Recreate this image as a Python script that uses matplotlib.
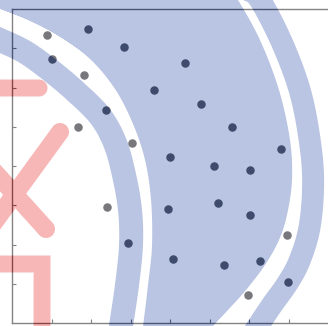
import numpy as np
import matplotlib
matplotlib.use("Agg")
import matplotlib.pyplot as plt

# scatter values (axes run 0..8 on both sides)
x_vals = [0.89, 1.92, 2.84, 1.01, 1.82, 4.38, 3.59, 4.78, 2.38, 1.67, 5.57, 3.04, 6.81, 4.00,
          5.11, 6.03, 2.41, 3.95, 5.22, 6.03, 6.96, 2.94, 4.08, 5.37, 6.28, 6.99, 5.97]
y_vals = [7.34, 7.49, 7.03, 6.73, 6.32, 6.62, 5.94, 5.58, 5.43, 4.99, 4.99, 4.59, 4.43, 4.23,
          4.00, 3.90, 2.96, 2.90, 3.06, 2.75, 2.24, 2.04, 1.63, 1.48, 1.58, 1.04, 0.71]
ticks = [1, 2, 3, 4, 5, 6, 7]

W, H = 328, 326

fig = plt.figure(figsize=(W / 100, H / 100), dpi=100)
ax = fig.add_axes([12 / W, 3 / H, 316 / W, 314 / H])
ax.scatter(x_vals, y_vals, s=26, color="#1e1e26", zorder=3)
ax.set_xlim(0, 8)
ax.set_ylim(0, 8)
ax.set_xticks(ticks)
ax.set_yticks(ticks)
ax.tick_params(direction="in", length=3, width=0.8, colors="#333333",
               labelleft=False, labelbottom=False)
for side in ["left", "bottom", "top"]:
    ax.spines[side].set_color("#333333")
    ax.spines[side].set_linewidth(1.0)
ax.spines["right"].set_visible(False)


# ---- watermark laid over the whole picture ----
def spline(pts, n=24):
    p = np.array(pts, float)
    p = np.vstack([p[0], p, p[-1]])
    t = np.linspace(0, 1, n, endpoint=False)[:, None]
    out = []
    for i in range(1, len(p) - 2):
        p0, p1, p2, p3 = p[i - 1], p[i], p[i + 1], p[i + 2]
        out.append(0.5 * (2 * p1 + (-p0 + p2) * t + (2 * p0 - 5 * p1 + 4 * p2 - p3) * t ** 2
                          + (-p0 + 3 * p1 - 3 * p2 + p3) * t ** 3))
    out.append(p[-2][None])
    return np.vstack(out)


gx, gy = np.meshgrid(np.arange(W) + 0.5, np.arange(H) + 0.5)


def path_dist(path):
    d = np.full(gx.shape, 1e9)
    for (x0, y0), (x1, y1) in zip(path[:-1], path[1:]):
        dx, dy = x1 - x0, y1 - y0
        l2 = dx * dx + dy * dy or 1e-9
        t = np.clip(((gx - x0) * dx + (gy - y0) * dy) / l2, 0, 1)
        d = np.minimum(d, np.hypot(gx - x0 - t * dx, gy - y0 - t * dy))
    return d


def soft(v):
    return np.clip(v + 0.5, 0, 1)


def xcurve(pts):
    c = spline(pts)
    return np.interp(gy, np.maximum.accumulate(c[:, 1]), c[:, 0])


inner_band = [(-10, 36), (0, 40), (25, 52), (50, 70), (75, 91), (100, 116), (115, 143),
              (124, 175), (130, 210), (131, 245), (127, 285), (121, 326), (119, 340)]
left_edge = [(-10, 5), (0, 9), (30, 21), (60, 37), (90, 59), (115, 89), (133, 124),
             (145, 160), (151, 200), (152, 245), (148, 285), (143, 326), (141, 340)]
right_edge = [(232, -5), (238, 0), (260, 40), (279, 90), (290, 140), (292, 180), (287, 215),
              (279, 240), (265, 265), (246, 290), (228, 310), (213, 326), (206, 335)]
outer_band = [(248, -10), (260, 0), (283, 45), (301, 95), (311, 150), (313, 190), (309, 230),
              (299, 262), (287, 284), (272, 305), (258, 326), (252, 335)]

big = soft(np.minimum(gx - xcurve(left_edge), xcurve(right_edge) - gx))
band1 = soft(12 - path_dist(spline(inner_band)))
band2 = soft(11 - path_dist(spline(outer_band)))
blue_mask = np.maximum.reduce([big, band1, band2])

strokes = [((-20, 88), (39, 88), 8.5), ((60, 132), (-15, 235), 9), ((-18, 158), (46, 229), 9)]
red_mask = np.zeros_like(gx)
for p0, p1, hw in strokes:
    red_mask = np.maximum(red_mask, soft(hw - path_dist(np.array([p0, p1], float))))
for x0, x1, y0, y1 in [(-20, 50.5, 255.5, 272.5), (33.5, 50.5, 255.5, 340)]:
    red_mask = np.maximum(red_mask, soft(np.minimum.reduce([gx - x0, x1 - gx, gy - y0, y1 - gy])))

rgb = np.ones((H, W, 3))
alpha = np.full((H, W), 0.40)
for mask, col, a in [(blue_mask, (103, 129, 192), 0.46), (red_mask, (238, 95, 95), 0.45)]:
    rgb = rgb * (1 - mask[..., None]) + np.array(col) / 255 * mask[..., None]
    alpha = alpha * (1 - mask) + a * mask
rgba = np.dstack([rgb, alpha])

ov = fig.add_axes([0, 0, 1, 1], zorder=10)
ov.imshow(rgba, extent=(0, W, H, 0), interpolation="bilinear", aspect="auto")
ov.set_xlim(0, W)
ov.set_ylim(H, 0)
ov.axis("off")

fig.savefig("out.png", dpi=100)
